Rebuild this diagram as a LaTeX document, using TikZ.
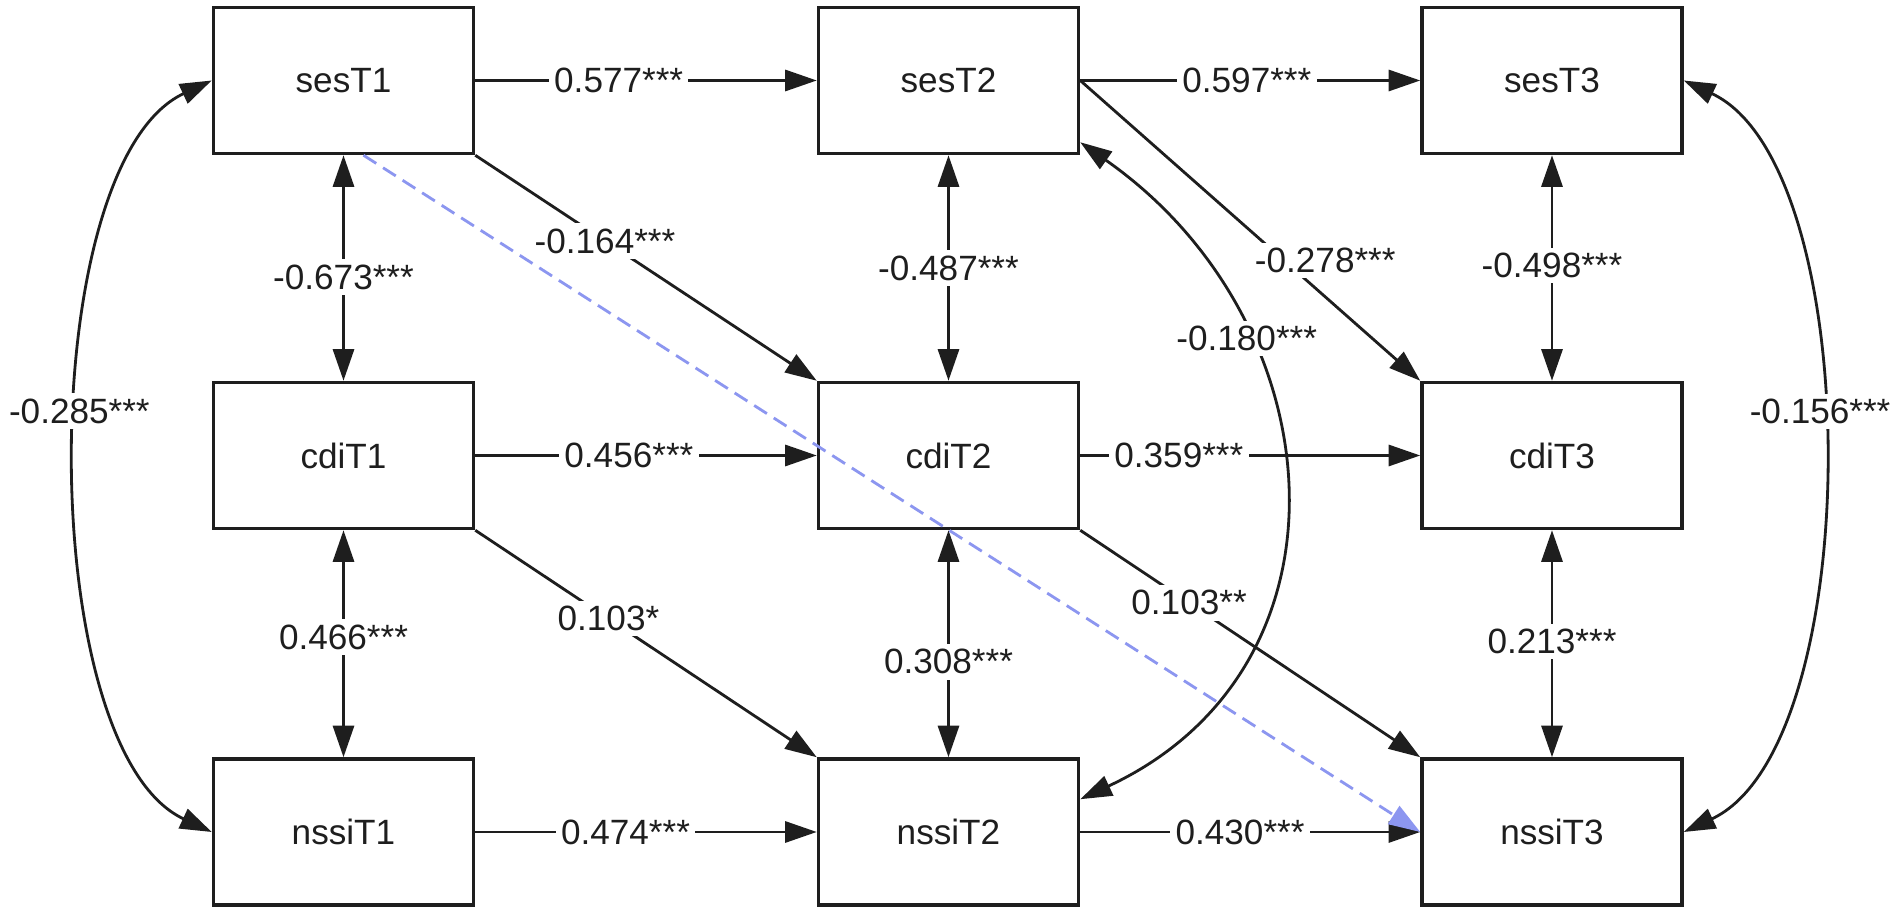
\documentclass[tikz,border=0pt]{standalone}
\usepackage{fontspec}
\setmainfont{Liberation Sans}
\usepackage{tikz}
\usetikzlibrary{arrows.meta}
\usepackage{color}
\definecolor{inkgray}{RGB}{30, 30, 30}
\definecolor{periwinkle}{RGB}{140, 150, 240}

\tikzset{
    varbox/.style    = {draw=inkgray, line width=1pt, fill=white, minimum width=2.6cm, minimum height=1.46cm, text=inkgray},
    effect/.style    = {draw=inkgray, line width=0.8pt, -{Triangle[length=9pt, width=6pt]}},
    covar/.style     = {draw=inkgray, line width=0.8pt, {Triangle[length=9pt, width=6pt]}-{Triangle[length=9pt, width=6pt]}},
    crossdash/.style = {draw=periwinkle, line width=0.8pt, dash pattern=on 4.3pt off 2.3pt, -{Triangle[length=9pt, width=6pt, fill=periwinkle]}},
    coef/.style      = {fill=white, inner sep=1.5pt, text=inkgray},
}

\begin{document}
\begin{tikzpicture}
            \useasboundingbox (0,0) rectangle (19.01,9.15);

            \node[varbox] (sesT1)  at ( 3.435, 8.345) {sesT1};
            \node[varbox] (sesT2)  at ( 9.485, 8.345) {sesT2};
            \node[varbox] (sesT3)  at (15.52,  8.345) {sesT3};
            \node[varbox] (cdiT1)  at ( 3.435, 4.595) {cdiT1};
            \node[varbox] (cdiT2)  at ( 9.485, 4.595) {cdiT2};
            \node[varbox] (cdiT3)  at (15.52,  4.595) {cdiT3};
            \node[varbox] (nssiT1) at ( 3.435, 0.83)  {nssiT1};
            \node[varbox] (nssiT2) at ( 9.485, 0.83)  {nssiT2};
            \node[varbox] (nssiT3) at (15.52,  0.83)  {nssiT3};

            \draw[effect] (sesT1)  -- node[coef, pos=0.42] {0.577***} (sesT2);
            \draw[effect] (sesT2)  -- node[coef, pos=0.49] {0.597***} (sesT3);
            \draw[effect] (cdiT1)  -- node[coef, pos=0.45] {0.456***} (cdiT2);
            \draw[effect] (cdiT2)  -- node[coef, pos=0.29] {0.359***} (cdiT3);
            \draw[effect] (nssiT1) -- node[coef, pos=0.44] {0.474***} (nssiT2);
            \draw[effect] (nssiT2) -- node[coef, pos=0.47] {0.430***} (nssiT3);

            \draw[effect] (sesT1.south east) -- node[coef, pos=0.38] {-0.164***} (cdiT2.north west);
            \draw[effect] (cdiT1.south east) -- node[coef, pos=0.39] {0.103*}    (nssiT2.north west);
            \draw[effect] (sesT2.east)       -- node[coef, pos=0.60, xshift=4.1mm] {-0.278***} (cdiT3.north west);
            \draw[effect] (cdiT2.south east) -- node[coef, pos=0.32] {0.103**}   (nssiT3.north west);

            \draw[covar] (sesT1) -- node[coef, pos=0.54] {-0.673***} (cdiT1);
            \draw[covar] (cdiT1) -- node[coef, pos=0.47] {0.466***}  (nssiT1);
            \draw[covar] (sesT2) -- node[coef, pos=0.50] {-0.487***} (cdiT2);
            \draw[covar] (cdiT2) -- node[coef, pos=0.58] {0.308***}  (nssiT2);
            \draw[covar] (sesT3) -- node[coef, pos=0.49] {-0.498***} (cdiT3);
            \draw[covar] (cdiT3) -- node[coef, pos=0.49] {0.213***}  (nssiT3);

            \draw[covar] (sesT1.west) to[out=205, in=155, looseness=0.67] node[coef, pos=0.455] {-0.285***} (nssiT1.west);
            \draw[covar] (sesT3.east) to[out=-25, in=25,  looseness=0.69] node[coef, pos=0.455] {-0.156***} (nssiT3.east);
            \draw[covar] ([yshift=1.3mm]sesT2.south east) to[out=-35, in=25, looseness=1.22]
                 node[coef, pos=0.3] {-0.180***} ([yshift=-4.2mm]nssiT2.north east);

            \draw[crossdash] ([xshift=2mm]sesT1.south) -- (nssiT3.west);
        \end{tikzpicture}
\end{document}
